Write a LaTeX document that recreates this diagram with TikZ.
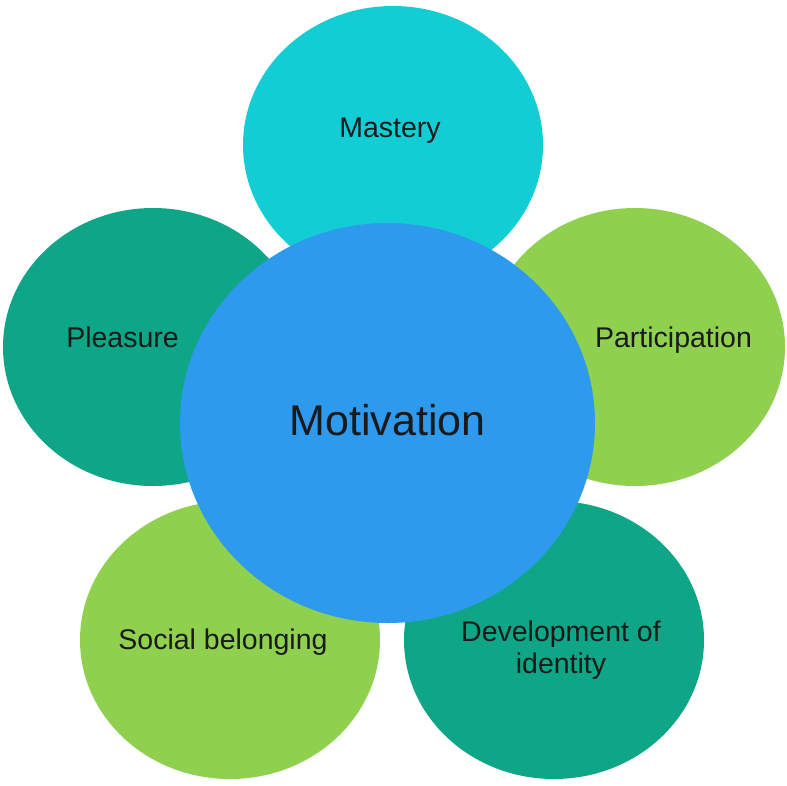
\documentclass[tikz,border=0pt]{standalone}
\usepackage{fontspec}
\setmainfont{Liberation Sans}
\usetikzlibrary{shapes.geometric}

\definecolor{mastcyan}{HTML}{12CDD4}
\definecolor{petalteal}{HTML}{0EA686}
\definecolor{petalgreen}{HTML}{8FD14F}
\definecolor{coreblue}{HTML}{2D9AEE}
\definecolor{labelink}{HTML}{1A1A1A}

\begin{document}
\begin{tikzpicture}[x=1pt, y=-1pt,
	petal/.style={ellipse, minimum width=300pt, minimum height=278pt, inner sep=0pt},
	petaltext/.style={anchor=base, font=\fontsize{28.5}{32}\selectfont, text=labelink, align=center}]
	\useasboundingbox (0,0) rectangle (787,785);
	% outer petals
	\node[petal, fill=mastcyan] (mastery) at (393,145) {};
	\node[petal, fill=petalteal] (pleasure) at (153,347) {};
	\node[petal, fill=petalgreen] (particip) at (635,347) {};
	\node[petal, fill=petalgreen] (social) at (230,640) {};
	\node[petal, fill=petalteal] (identity) at (554,640) {};
	% centre
	\node[ellipse, minimum width=415pt, minimum height=400pt, inner sep=0pt, fill=coreblue] (motiv) at (387.5,423) {};
	\node[font=\fontsize{43}{50}\selectfont, text=labelink] (motivtxt) at (387.5,420) {Motivation};
	% labels
	\node[petaltext] (masterytxt) at (390,137) {Mastery};
	\node[petaltext] (pleasuretxt) at (122.5,347) {Pleasure};
	\node[petaltext] (participtxt) at (673.5,347) {Participation};
	\node[petaltext] (socialtxt) at (223,649) {Social belonging};
	\node[petaltext] (identitytxt) at (561,673) {Development of\\identity};
\end{tikzpicture}
\end{document}
